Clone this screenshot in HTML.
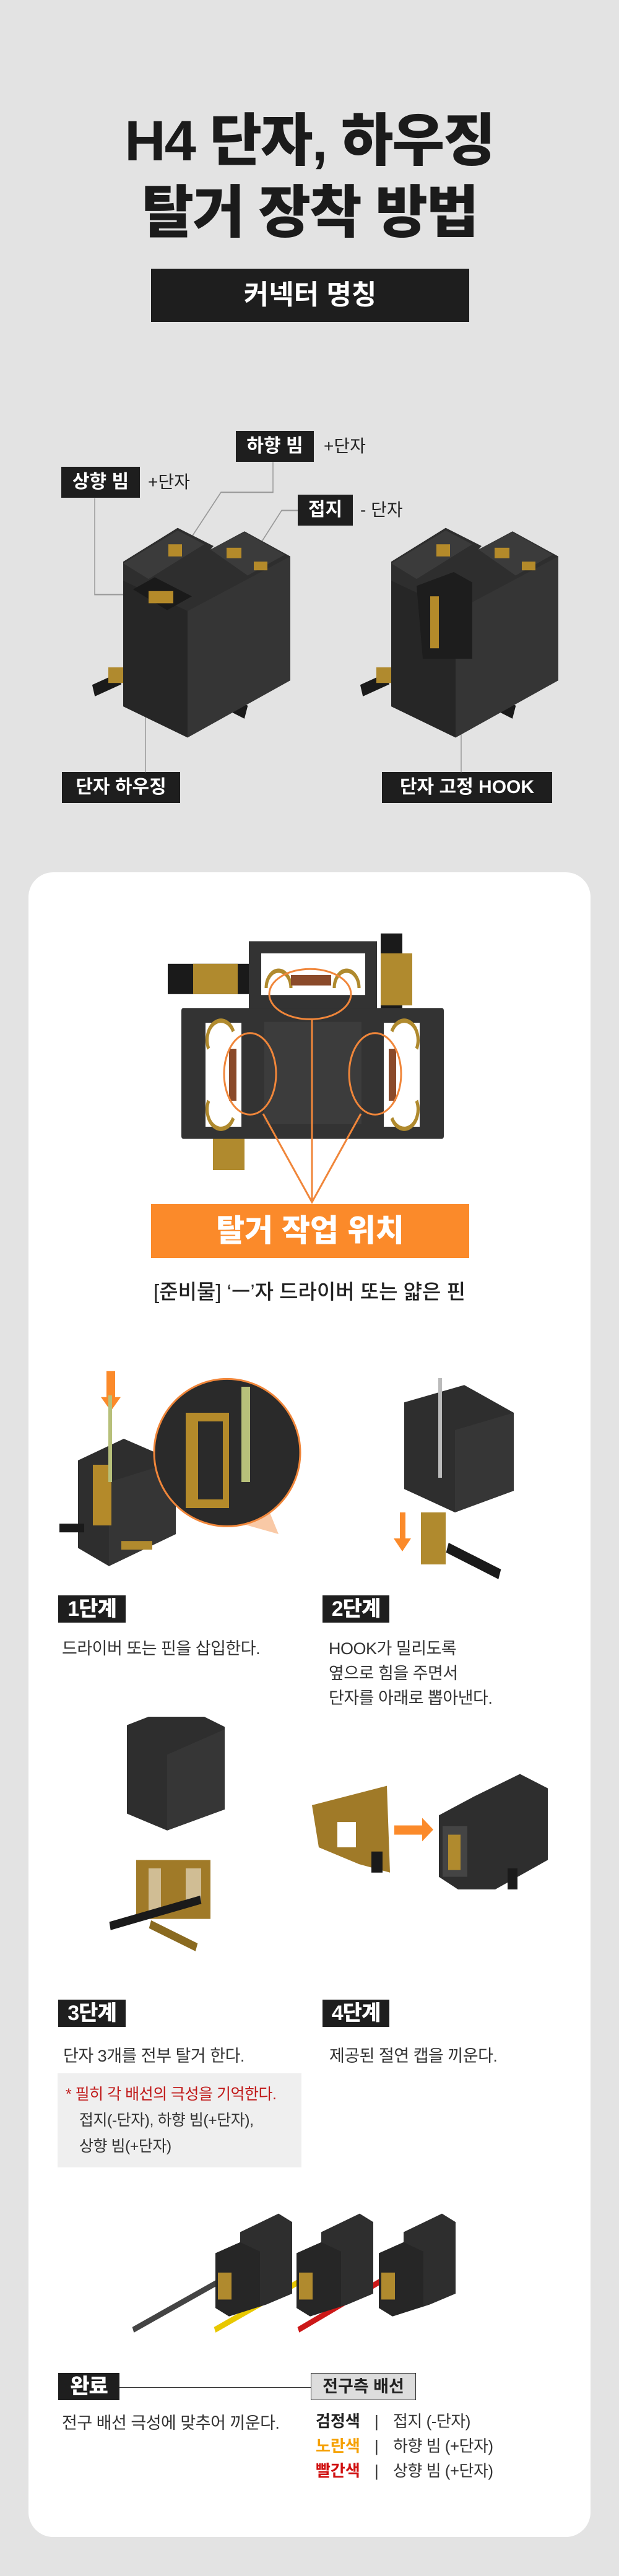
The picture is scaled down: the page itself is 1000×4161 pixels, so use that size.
<!DOCTYPE html>
<html><head><meta charset="utf-8"><style>
*{margin:0;padding:0;box-sizing:border-box}
body{width:1000px;height:4161px;background:#e3e3e3;position:relative;overflow:hidden;font-family:"Liberation Sans","Noto Sans CJK KR",sans-serif;color:#222}
.a{position:absolute;white-space:nowrap}
.t{font-weight:900;font-size:92px;color:#1b1b1b;left:0;width:1000px;text-align:center;letter-spacing:-2px;line-height:110px}
.bk{background:#1e1e1e;color:#fff;font-weight:700;text-align:center}
.lbl{font-size:30px;line-height:50px;height:50px}
.pl{font-size:28px;color:#222;line-height:50px}
.card{position:absolute;left:46px;top:1409px;width:908px;height:2689px;background:#fff;border-radius:40px}
.step{font-size:34px;line-height:44px;height:44px;font-weight:900;background:#1e1e1e;color:#fff;text-align:center;letter-spacing:-1px}
.tx{font-size:27px;line-height:40px;color:#333;letter-spacing:-0.5px}
</style></head><body>
<div class="a t" style="top:173px">H4 단자, 하우징</div>
<div class="a t" style="top:289px">탈거 장착 방법</div>
<div class="a bk" style="left:244px;top:434px;width:514px;height:86px;font-size:44px;line-height:86px">커넥터 명칭</div>

<div class="a bk lbl" style="left:381px;top:696px;width:126px">하향 빔</div>
<div class="a pl" style="left:523px;top:696px">+단자</div>
<div class="a bk lbl" style="left:99px;top:754px;width:127px">상향 빔</div>
<div class="a pl" style="left:239px;top:754px">+단자</div>
<div class="a bk lbl" style="left:481px;top:799px;width:89px">접지</div>
<div class="a pl" style="left:582px;top:799px">- 단자</div>
<div class="a bk lbl" style="left:100px;top:1247px;width:191px">단자 하우징</div>
<div class="a bk lbl" style="left:617px;top:1247px;width:275px">단자 고정 HOOK</div>

<svg class="a" style="left:0;top:0" width="1000" height="1400">
<g transform="scale(1,1.4)">
<g stroke="#999" stroke-width="1.5" fill="none" vector-effect="non-scaling-stroke">
<polyline points="441,533 441,568 357,568 300,630"/>
<polyline points="153,575 153,686 245,686"/>
<polyline points="481,589 455,589 412,637 378,637"/>
<polyline points="235,782 235,891"/>
<polyline points="727,723 745,726 745,891"/>
</g>
<g id="cn">
<rect x="150" y="783" width="45" height="14" fill="#1a1a1a" transform="rotate(-18 172 790)"/>
<rect x="175" y="770" width="28" height="18" fill="#b08a2e"/>
<rect x="320" y="800" width="80" height="16" fill="#1a1a1a" transform="rotate(20 360 808)"/>
<rect x="310" y="795" width="50" height="18" fill="#b08a2e" transform="rotate(20 335 804)"/>
<polygon points="199,648 287,609 345,630 340,634 395,613 469,642 469,785 303,851 199,815" fill="#2e2e2e"/>
<polygon points="303,705 469,642 469,785 303,851" fill="#353535"/>
<polygon points="199,670 303,705 303,851 199,815" fill="#262626"/>
<polygon points="199,650 287,612 330,628 240,668" fill="#3b3b3b"/>
<polygon points="340,634 395,614 460,640 400,664" fill="#3b3b3b"/>
<rect x="272" y="628" width="22" height="14" fill="#b48a2a"/>
<rect x="366" y="632" width="24" height="12" fill="#b48a2a"/>
<rect x="410" y="648" width="22" height="10" fill="#b48a2a"/>
</g>
<polygon points="215,680 250,666 310,688 270,704" fill="#1a1a1a"/>
<rect x="240" y="682" width="40" height="14" fill="#b48a2a"/>
<use href="#cn" x="433" y="0"/>
<polygon points="673,676 733,660 763,672 763,760 683,760" fill="#1d1d1d"/>
<rect x="695" y="688" width="14" height="60" fill="#b48a2a"/>
</g>
</svg>

<div class="card"></div>

<svg class="a" style="left:0;top:1498px" width="1000" height="470">
<g transform="scale(1,1.4)">
<rect x="271" y="42" width="135" height="35" fill="#1a1a1a"/>
<rect x="312" y="42" width="72" height="35" fill="#b08a2e"/>
<rect x="615" y="7" width="35" height="110" fill="#1a1a1a"/>
<rect x="615" y="30" width="51" height="60" fill="#b08a2e"/>
<rect x="344" y="240" width="51" height="40" fill="#b08a2e"/>
<rect x="402" y="16" width="207" height="82" fill="#333"/>
<rect x="293" y="93" width="424" height="151" fill="#333" rx="3"/>
<rect x="422" y="30" width="168" height="48" fill="#fff"/>
<rect x="332" y="110" width="58" height="120" fill="#fff"/>
<rect x="620" y="110" width="58" height="120" fill="#fff"/>
<rect x="427" y="109" width="157" height="118" fill="#3c3c3c"/>
<g fill="none" stroke="#b08a2e" stroke-width="5">
<path d="M430,70 a20,20 0 0 1 40,0"/><path d="M540,70 a20,20 0 0 1 40,0"/>
<path d="M337,140 a20,20 0 0 1 40,-20"/><path d="M337,200 a20,20 0 0 0 40,20"/>
<path d="M673,140 a20,20 0 0 0 -40,-20"/><path d="M673,200 a20,20 0 0 1 -40,20"/>
</g>
<rect x="370" y="140" width="12" height="60" fill="#8a4a2a"/>
<rect x="628" y="140" width="12" height="60" fill="#8a4a2a"/>
<rect x="470" y="55" width="65" height="12" fill="#8a4a2a"/>
<g fill="none" stroke="#f0863a" stroke-width="3" vector-effect="non-scaling-stroke">
<ellipse cx="501" cy="77" rx="66" ry="29" vector-effect="non-scaling-stroke"/>
<ellipse cx="404" cy="169" rx="42" ry="47" vector-effect="non-scaling-stroke"/>
<ellipse cx="606" cy="169" rx="42" ry="47" vector-effect="non-scaling-stroke"/>
<polyline points="425,215 504,317 583,215" vector-effect="non-scaling-stroke"/>
<line x1="504" y1="106" x2="504" y2="317" vector-effect="non-scaling-stroke"/>
</g>
</g>
</svg>
<div class="a" style="left:244px;top:1945px;width:514px;height:87px;background:#fb8a2a;color:#fff;font-weight:900;font-size:50px;line-height:87px;text-align:center">탈거 작업 위치</div>
<div class="a" style="left:0;width:1000px;text-align:center;top:2064px;font-size:33px;line-height:46px;font-weight:500;color:#222">[준비물]  ‘ㅡ’자 드라이버 또는 얇은 핀</div>

<svg class="a" style="left:0;top:2198px" width="1000" height="380">
<g transform="scale(1,1.4)">
<polygon points="172,12 186,12 186,42 195,42 179,58 163,42 172,42" fill="#fb8a2a"/>
<polygon points="280,100 370,60 450,200 300,170" fill="#f5a56a" opacity="0.6"/>
<polygon points="126,115 200,90 284,116 284,200 176,237 126,216" fill="#2e2e2e"/>
<polygon points="176,140 284,116 284,200 176,237" fill="#353535"/>
<rect x="150" y="120" width="30" height="70" fill="#b48a2a"/>
<rect x="175" y="40" width="6" height="100" fill="#b7c07a"/>
<rect x="96" y="188" width="40" height="10" fill="#1a1a1a"/>
<rect x="196" y="208" width="50" height="10" fill="#b08a2e"/>
<ellipse cx="367" cy="106" rx="118" ry="85" fill="#2a2a2a" stroke="#f0863a" stroke-width="3" vector-effect="non-scaling-stroke"/>
<rect x="300" y="60" width="70" height="110" fill="#b48a2a"/>
<rect x="320" y="70" width="40" height="90" fill="#2a2a2a"/>
<rect x="390" y="30" width="14" height="110" fill="#b7c07a"/>
<polygon points="653,48 750,28 830,60 830,150 735,175 653,148" fill="#2e2e2e"/>
<polygon points="735,80 830,60 830,150 735,175" fill="#363636"/>
<rect x="708" y="20" width="6" height="115" fill="#bbb"/>
<rect x="680" y="175" width="40" height="60" fill="#b08a2e"/>
<rect x="720" y="225" width="90" height="12" fill="#1a1a1a" transform="rotate(20 765 231)"/>
<polygon points="646,175 655,175 655,205 664,205 650,220 636,205 646,205" fill="#fb8a2a"/>
</g>
</svg>
<div class="a step" style="left:94px;top:2577px;width:109px">1단계</div>
<div class="a step" style="left:521px;top:2577px;width:108px">2단계</div>
<div class="a tx" style="left:100px;top:2643px">드라이버 또는 핀을 삽입한다.</div>
<div class="a tx" style="left:531px;top:2643px">HOOK가 밀리도록<br>옆으로 힘을 주면서<br>단자를 아래로 뽑아낸다.</div>

<svg class="a" style="left:0;top:2773px" width="1000" height="440">
<g transform="scale(1,1.361)">
<polygon points="205,10 240,0 330,0 363,12 363,110 270,135 205,115" fill="#2e2e2e"/>
<polygon points="270,45 363,15 363,110 270,135" fill="#363636"/>
<rect x="220" y="170" width="120" height="70" fill="#a07a28"/>
<rect x="240" y="180" width="20" height="50" fill="#fff" opacity="0.5"/>
<rect x="300" y="180" width="25" height="40" fill="#fff" opacity="0.5"/>
<rect x="176" y="228" width="150" height="10" fill="#1a1a1a" transform="rotate(-12 250 233)"/>
<rect x="240" y="255" width="80" height="10" fill="#8a6a20" transform="rotate(20 280 260)"/>
<polygon points="504,105 625,82 630,185 580,175 515,155" fill="#a07a28"/>
<rect x="545" y="125" width="30" height="30" fill="#fff"/>
<rect x="600" y="160" width="18" height="25" fill="#1a1a1a"/>
<rect x="637" y="129" width="45" height="11" fill="#fb8a2a"/>
<polygon points="682,120 700,134 682,148" fill="#fb8a2a"/>
<polygon points="709,117 765,95 840,68 885,85 885,170 800,205 740,205 709,190" fill="#2e2e2e"/>
<rect x="715" y="130" width="40" height="60" fill="#444"/>
<rect x="724" y="140" width="20" height="42" fill="#b08a2e"/>
<rect x="820" y="180" width="16" height="25" fill="#1a1a1a"/>
</g>
</svg>
<div class="a step" style="left:94px;top:3230px;width:109px">3단계</div>
<div class="a step" style="left:521px;top:3230px;width:108px">4단계</div>
<div class="a tx" style="left:102px;top:3301px">단자 3개를 전부 탈거 한다.</div>
<div class="a tx" style="left:532px;top:3301px">제공된 절연 캡을 끼운다.</div>
<div class="a" style="left:93px;top:3349px;width:394px;height:152px;background:#efefef"></div>
<div class="a tx" style="left:106px;top:3362px;color:#c01818;font-size:25px;line-height:42px">* 필히 각 배선의 극성을 기억한다.</div>
<div class="a tx" style="left:128px;top:3404px;font-size:25px;line-height:42px">접지(-단자), 하향 빔(+단자),<br>상향 빔(+단자)</div>

<svg class="a" style="left:0;top:3562px" width="1000" height="220">
<g transform="scale(1,1.361)">
<line x1="215" y1="148" x2="360" y2="88" stroke="#444" stroke-width="7"/>
<line x1="347" y1="148" x2="490" y2="88" stroke="#e8c800" stroke-width="7"/>
<line x1="482" y1="148" x2="620" y2="88" stroke="#cc1818" stroke-width="7"/>
<g id="c"><polygon points="348,57 388,44 388,32 450,10 472,20 472,105 430,118 370,132 348,122" fill="#2e2e2e"/>
<polygon points="348,57 388,44 420,55 420,120 370,132 348,122" fill="#262626"/>
<rect x="352" y="80" width="22" height="32" fill="#b08a2e"/></g>
<use href="#c" x="131" y="0"/>
<use href="#c" x="264" y="0"/>
</g>
</svg>

<div class="a step" style="left:94px;top:3833px;width:99px">완료</div>
<div class="a" style="left:193px;top:3856px;width:309px;height:1px;background:#333"></div>
<div class="a" style="left:502px;top:3833px;width:170px;height:44px;background:#ddd;border:1px solid #333;font-size:27px;font-weight:700;line-height:42px;text-align:center;color:#222">전구측 배선</div>
<div class="a tx" style="left:100px;top:3894px">전구 배선 극성에 맞추어 끼운다.</div>
<div class="a" style="left:510px;top:3891px;font-size:26px;line-height:40px;font-weight:700">
<span style="color:#222">검정색</span><br><span style="color:#f5a000">노란색</span><br><span style="color:#d01010">빨간색</span></div>
<div class="a tx" style="left:605px;top:3891px;font-size:26px;line-height:40px">|<br>|<br>|</div>
<div class="a tx" style="left:635px;top:3891px;font-size:26px;line-height:40px">접지 (-단자)<br>하향 빔 (+단자)<br>상향 빔 (+단자)</div>
</body></html>
